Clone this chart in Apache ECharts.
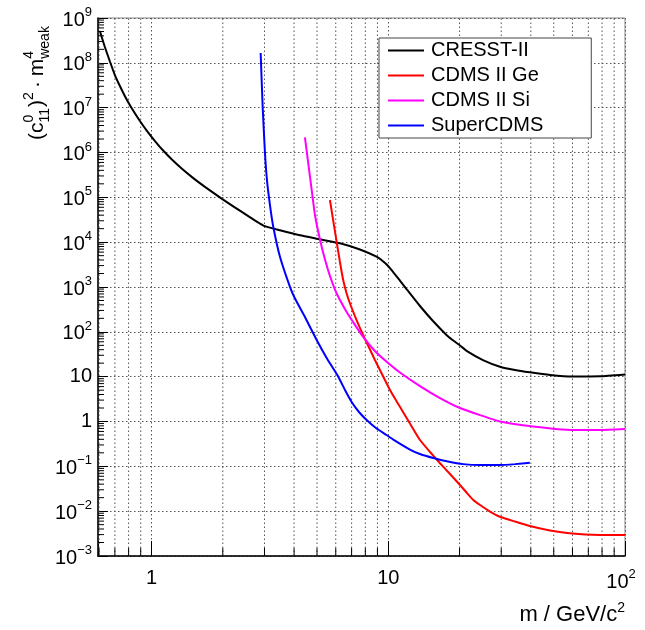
<!DOCTYPE html>
<html><head><meta charset="utf-8">
<script src="https://cdn.jsdelivr.net/npm/echarts@6/dist/echarts.min.js"></script>
<style>html,body{margin:0;padding:0;background:#fff}#c{width:645px;height:630px}</style>
</head><body><div id="c"></div>
<script>
// ---- data ----
const cresstMass  = [0.605, 0.635, 0.667, 0.700, 0.735, 0.779, 0.826, 0.893, 0.956, 1.034, 1.117, 1.219, 1.344, 1.496, 1.681, 1.984, 2.433, 2.955, 3.487, 4.236, 5.145, 6.25, 7.59, 8.96, 9.69, 10.37, 11.20, 11.99, 13.61, 15.45, 17.70, 18.58, 20.09, 21.50, 25.12, 29.64, 34.30, 39.64, 48.2, 60.3, 78.4, 100];
const cresstLimit = [5.13e8, 2.25e8, 1.07e8, 5.35e7, 3.04e7, 1.64e7, 9.57e6, 5.04e6, 3.05e6, 1.80e6, 1.12e6, 6.97e5, 4.34e5, 2.72e5, 1.71e5, 9.26e4, 4.54e4, 2.38e4, 1.84e4, 1.42e4, 1.16e4, 9.42e3, 6.86e3, 4.67e3, 3.43e3, 2.33e3, 1.39e3, 877, 377, 174, 82.8, 67.3, 49.5, 37.3, 23.5, 16.7, 14.1, 12.5, 10.9, 10.07, 10.2, 11.2];

const geMass  = [5.67, 5.84, 6.05, 6.25, 6.45, 6.66, 6.89, 7.23, 7.59, 7.97, 8.37, 8.78, 9.22, 9.68, 10.17, 10.67, 11.20, 12.35, 13.61, 15.01, 16.54, 18.23, 20.09, 21.50, 22.87, 24.41, 26.90, 29.64, 34.30, 39.64, 48.2, 56.9, 67.8, 78.4, 100];
const geLimit = [8.71e4, 3.28e4, 1.03e4, 3.61e3, 1.43e3, 735, 428, 225, 122, 69.2, 40.3, 23.5, 14.1, 8.41, 5.03, 3.25, 2.13, 0.90, 0.386, 0.209, 0.117, 0.0673, 0.0383, 0.0254, 0.0177, 0.0137, 0.00982, 0.00752, 0.00587, 0.00466, 0.00370, 0.00325, 0.00301, 0.00294, 0.00294];

const siMass  = [4.446, 4.592, 4.747, 4.901, 5.145, 5.403, 5.670, 5.953, 6.25, 6.69, 7.10, 7.82, 8.78, 9.87, 11.20, 13.61, 16.54, 20.09, 24.41, 29.64, 40.9, 60.3, 78.4, 100];
const siLimit = [2.18e6, 5.71e5, 1.46e5, 4.03e4, 1.15e4, 4.10e3, 1.76e3, 879, 513, 270, 166, 77.8, 37.3, 21.2, 12.4, 6.18, 3.34, 2.0, 1.39, 1.0, 0.773, 0.645, 0.645, 0.679];

const superMass  = [2.890, 2.947, 3.014, 3.073, 3.164, 3.267, 3.487, 3.843, 4.035, 4.446, 4.983, 5.508, 6.150, 6.564, 7.003, 7.518, 8.103, 8.87, 9.84, 10.50, 12.35, 13.61, 15.49, 17.87, 20.75, 24.41, 29.64, 34.30, 39.64];
const superLimit = [1.66e8, 1.04e7, 9.75e5, 2.43e5, 6.74e4, 2.21e4, 4.73e3, 1.01e3, 553, 214, 65.6, 25.4, 9.98, 5.04, 2.72, 1.63, 1.08, 0.715, 0.499, 0.396, 0.237, 0.188, 0.153, 0.128, 0.112, 0.107, 0.107, 0.112, 0.120];

const seriesNames  = ['CRESST-II', 'CDMS II Ge', 'CDMS II Si', 'SuperCDMS'];
const seriesColors = ['#000000', '#ff0000', '#ff00ff', '#0000ff'];

// axis ranges and tick positions
const X_MIN = 0.594, X_MAX = 100;
const Y_MIN = 1e-3, Y_MAX = 1e9;
const xMinorTicks = [0.6, 0.7, 0.8, 0.9, 2, 3, 4, 5, 6, 7, 8, 9, 20, 30, 40, 50, 60, 70, 80, 90];
const xMajorTicks = [1, 10, 100];
const yExponents  = [-3, -2, -1, 0, 1, 2, 3, 4, 5, 6, 7, 8, 9];
const yMinorMult  = [2, 3, 4, 5, 6, 7, 8, 9];

const FONT = 'Liberation Sans, Arial, Helvetica, sans-serif';
const zip = (a, b) => a.map((v, i) => [v, b[i]]);

const yMinorTicks = [];
yExponents.slice(0, -1).forEach(e => yMinorMult.forEach(m => yMinorTicks.push(m * Math.pow(10, e))));

function expOf(v) { return Math.round(Math.log10(v)); }
function isDecade(v) { return Math.abs(Math.log10(v) - expOf(v)) < 1e-6; }
function powLabel(e, pad) {
  if (e === 0) return '1';
  if (e === 1) return '10';
  const s = e < 0 ? '\u2212' + (-e) : String(e);
  return '{b|10}{s|' + s + '}' + (pad ? '{p|}' : '');
}
const richLab = {
  b: { fontSize: 20, fontFamily: FONT, color: '#000', verticalAlign: 'bottom' },
  s: { fontSize: 13, fontFamily: FONT, color: '#000', verticalAlign: 'bottom', padding: [0, 0, 11, 0] },
  p: { width: 8 }
};

const chart = echarts.init(document.getElementById('c'), null, { renderer: 'canvas' });

const lineSeries = [
  [cresstMass, cresstLimit], [geMass, geLimit], [siMass, siLimit], [superMass, superLimit]
].map((d, i) => ({
  type: 'line', name: seriesNames[i], data: zip(d[0], d[1]),
  symbol: 'none', smooth: 0.15, z: 5, clip: true,
  lineStyle: { color: seriesColors[i], width: 2 },
  itemStyle: { color: seriesColors[i] }
}));

const dotted = { stroke: '#555', lineWidth: 1, lineDash: [1.5, 2.5] };

const xDecor = {
  type: 'custom', name: '_xgrid', silent: true, z: 1,
  data: xMinorTicks.map(v => [v, Y_MIN]),
  renderItem: (params, api) => {
    const v = api.value(0);
    const b = api.coord([v, Y_MIN]);
    const t = api.coord([v, Y_MAX]);
    return { type: 'group', children: [
      { type: 'line', shape: { x1: b[0], y1: b[1], x2: t[0], y2: t[1] }, style: dotted },
      { type: 'line', shape: { x1: b[0], y1: b[1], x2: b[0], y2: b[1] - 8 }, style: { stroke: '#000', lineWidth: 1 } }
    ]};
  }
};
const yDecor = {
  type: 'custom', name: '_yticks', silent: true, z: 2,
  data: yMinorTicks.map(v => [X_MIN, v]),
  renderItem: (params, api) => {
    const v = api.value(1);
    const p = api.coord([X_MIN, v]);
    return { type: 'line', shape: { x1: p[0], y1: p[1], x2: p[0] + 6, y2: p[1] }, style: { stroke: '#000', lineWidth: 1 } };
  }
};

chart.setOption({
  animation: false,
  backgroundColor: '#fff',
  textStyle: { fontFamily: FONT },
  grid: { left: 98, right: 20, top: 18, bottom: 74, show: true, borderColor: '#888', borderWidth: 1, backgroundColor: 'transparent' },
  xAxis: {
    type: 'log', logBase: 10, min: X_MIN, max: X_MAX,
    axisLine: { show: true, onZero: false, lineStyle: { color: '#000', width: 1.5 } },
    axisTick: { show: true, inside: true, length: 15, lineStyle: { color: '#000', width: 1 } },
    minorTick: { show: false },
    splitLine: { show: true, lineStyle: { color: '#555', width: 1, type: [1.5, 2.5] } },
    axisLabel: {
      margin: 12, fontSize: 20, color: '#000', fontFamily: FONT, showMinLabel: true, showMaxLabel: true,
      formatter: v => isDecade(v) ? powLabel(expOf(v), expOf(v) === 2) : '',
      rich: richLab
    }
  },
  yAxis: {
    type: 'log', logBase: 10, min: Y_MIN, max: Y_MAX, interval: 1, splitNumber: 12,
    axisLine: { show: true, onZero: false, lineStyle: { color: '#000', width: 1.5 } },
    axisTick: { show: true, inside: true, length: 10, lineStyle: { color: '#000', width: 1 } },
    minorTick: { show: false },
    splitLine: { show: true, lineStyle: { color: '#555', width: 1, type: [1.5, 2.5] } },
    axisLabel: {
      margin: 6, fontSize: 20, color: '#000', fontFamily: FONT, showMinLabel: true, showMaxLabel: true,
      formatter: v => isDecade(v) ? powLabel(expOf(v), false) : '',
      rich: richLab
    }
  },
  legend: {
    data: seriesNames, orient: 'vertical', left: 379, top: 38,
    icon: 'rect', padding: [0, 48, 0, 9], itemGap: 0, itemWidth: 36, itemHeight: 2,
    backgroundColor: '#fff', borderColor: '#444', borderWidth: 1, borderRadius: 0,
    selectedMode: false,
    textStyle: { fontSize: 20, lineHeight: 25, color: '#000', fontFamily: FONT, padding: [0, 0, 0, 2] }
  },
  series: [xDecor, yDecor].concat(lineSeries),
  graphic: [
    {
      type: 'text', right: 20, top: 601, silent: true,
      style: {
        text: '{a|m / GeV/c}{s|2}', font: '22px ' + FONT,
        rich: {
          a: { fontSize: 22, fontFamily: FONT, fill: '#000', verticalAlign: 'bottom' },
          s: { fontSize: 14, fontFamily: FONT, fill: '#000', verticalAlign: 'bottom', padding: [0, 0, 11, 0] }
        }
      }
    },
    {
      type: 'group', x: 44, y: 140, rotation: Math.PI / 2, silent: true,
      children: (function () {
        const fs = 21, ss = 14;
        const items = [
          ['(', 0, 0, fs], ['c', 7, 0, fs], ['0', 17.5, -10, ss], ['11', 17.5, 6, ss],
          [')', 33.1, 0, fs], ['2', 40.1, -10, ss], ['\u00b7', 52, 0, fs],
          ['m', 63.7, 0, fs], ['4', 81.2, -10, ss], ['weak', 81.2, 6, ss]
        ];
        return items.map(it => ({
          type: 'text', x: it[1], y: it[2] - 0.33 * it[3],
          style: { text: it[0], font: it[3] + 'px ' + FONT, fill: '#000', align: 'left', verticalAlign: 'middle' }
        }));
      })()
    }
  ]
});
</script></body></html>
